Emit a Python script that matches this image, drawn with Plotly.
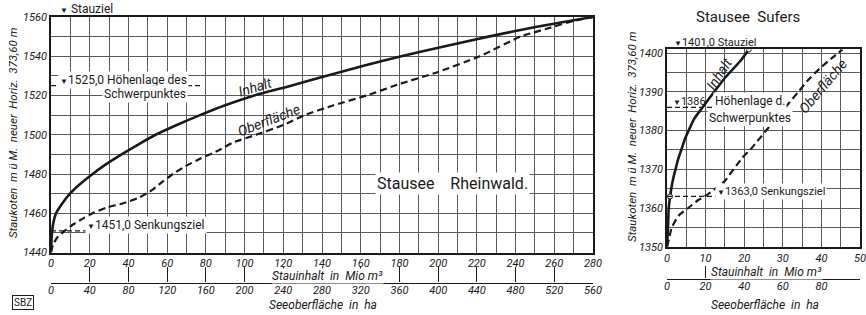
import plotly.graph_objects as go

# ---------------- data ----------------
# Stausee Rheinwald
rw_inhalt_elev = [1440, 1445, 1450, 1455, 1460, 1465, 1470, 1475, 1480, 1485, 1490, 1495, 1500,
                  1505, 1510, 1515, 1520, 1525, 1530, 1535, 1540, 1545, 1550, 1555, 1560]
rw_inhalt_mio = [0, 0.2, 0.5, 1.2, 2.6, 5.8, 9.8, 15.2, 21.5, 28.5, 36.5, 45, 54,
                 65, 77, 90, 105, 124, 142, 161, 181, 203, 226, 251, 280]

rw_ober_elev = [1440, 1444, 1448, 1451, 1454, 1457, 1460, 1463, 1465, 1468, 1472, 1476, 1480,
                1484, 1488, 1492, 1496, 1500, 1505, 1510, 1515, 1520, 1526, 1532, 1540,
                1550, 1554, 1558, 1560]
rw_ober_ha = [0, 2, 7, 14, 22, 32, 43, 58, 74, 91, 105, 115, 126,
              139, 155, 173, 188, 212, 240, 262, 292, 326, 361, 400, 443,
              485, 512, 540, 560]

# Stausee Sufers
su_inhalt_elev = [1350, 1355, 1360, 1363, 1365, 1368, 1370, 1373, 1375, 1378, 1380, 1383,
                  1386, 1390, 1394, 1398, 1401]
su_inhalt_mio = [0, 0.25, 0.45, 0.8, 1.1, 1.7, 2.2, 3, 3.7, 4.7, 5.6, 7,
                 9.2, 12.2, 15.3, 19, 21.2]

su_ober_elev = [1350, 1352, 1355, 1358, 1360, 1362, 1363, 1365, 1367, 1369, 1371, 1373, 1375,
                1378, 1381, 1384, 1387, 1390, 1393, 1396, 1399, 1401]
su_ober_ha = [0, 1, 2.5, 6, 11, 16, 19.5, 25, 30, 33, 36, 39, 43,
              48, 53, 58, 63, 68, 73, 79, 86, 91]

# levels
rw_levels = {"stauziel": 1560.0, "schwerpunkt": 1525.0, "senkung": 1451.0}
su_levels = {"stauziel": 1401.0, "schwerpunkt": 1386.0, "senkung": 1363.0}

# grid positions and labelled ticks
rw_mio_grid = list(range(0, 281, 10))
rw_mio_labels = list(range(0, 281, 20))
rw_ha_ticks = list(range(0, 561, 40))
rw_elev_grid = list(range(1440, 1561, 10))
rw_elev_labels = list(range(1440, 1561, 20))
su_mio_grid = list(range(0, 51, 5))
su_mio_labels = list(range(0, 51, 10))
su_ha_ticks = list(range(0, 101, 20))
su_elev_grid = list(range(1350, 1401, 5))
su_elev_labels = list(range(1350, 1401, 10))

# ---------------- layout helpers ----------------
W, H = 866, 315


def px(x):
    return x / W


def py(y):
    return 1 - y / H


FONT = "Roboto"
INK = "#1a1a1a"
GRID = "#5a5a5a"

fig = go.Figure()

# Rheinwald traces
fig.add_trace(go.Scatter(x=rw_inhalt_mio, y=rw_inhalt_elev, mode="lines",
                         line=dict(color=INK, width=2.6, shape="spline", smoothing=0.6),
                         xaxis="x", yaxis="y", showlegend=False, hoverinfo="skip"))
fig.add_trace(go.Scatter(x=rw_ober_ha, y=rw_ober_elev, mode="lines",
                         line=dict(color=INK, width=2.2, dash="7px,4px", shape="spline", smoothing=0.5),
                         xaxis="x3", yaxis="y", showlegend=False, hoverinfo="skip"))

# Sufers traces
fig.add_trace(go.Scatter(x=su_inhalt_mio, y=su_inhalt_elev, mode="lines",
                         line=dict(color=INK, width=2.6, shape="spline", smoothing=0.6),
                         xaxis="x2", yaxis="y2", showlegend=False, hoverinfo="skip"))
fig.add_trace(go.Scatter(x=su_ober_ha, y=su_ober_elev, mode="lines",
                         line=dict(color=INK, width=2.2, dash="7px,4px", shape="spline", smoothing=0.5),
                         xaxis="x4", yaxis="y2", showlegend=False, hoverinfo="skip"))
i_s = su_inhalt_elev.index(su_levels["senkung"])
fig.add_trace(go.Scatter(x=[su_inhalt_mio[i_s], su_inhalt_mio[-1]],
                         y=[su_inhalt_elev[i_s], su_inhalt_elev[-1]], mode="markers",
                         marker=dict(symbol="circle", size=5, color="white",
                                     line=dict(color=INK, width=1)),
                         xaxis="x2", yaxis="y2", showlegend=False, hoverinfo="skip"))

tickfont = dict(family=FONT, size=11, color=INK, style="italic")


def labels_for(grid, labelled):
    return [str(v) if v in labelled else "" for v in grid]


def main_axis(domain, rng, grid, labelled, anchor):
    return dict(domain=domain, range=rng, tickmode="array", tickvals=grid,
                ticktext=labels_for(grid, labelled), ticks="", showgrid=True,
                gridcolor=GRID, gridwidth=1, showline=True, linecolor=INK, linewidth=1.5,
                mirror=True, zeroline=False, tickfont=tickfont, anchor=anchor,
                layer="below traces", automargin=False)


def ha_axis(domain, rng, ticks, over, pos, tlen):
    return dict(domain=domain, range=rng, tickmode="array", tickvals=ticks, overlaying=over,
                anchor="free", position=pos, side="bottom", showgrid=False, showline=True,
                linecolor=INK, linewidth=1.2, ticks="inside", ticklen=tlen, tickwidth=1,
                tickcolor=INK, zeroline=False, tickfont=tickfont, automargin=False,
                ticklabelstandoff=-3)


rw_xdom = [px(51), px(593)]
rw_ydom = [py(252.5), py(17)]
su_xdom = [px(667), px(860)]
su_ydom = [py(246.7), py(49.4)]

fig.update_layout(
    width=W, height=H, autosize=False,
    margin=dict(l=0, r=0, t=0, b=0, pad=0, autoexpand=False),
    paper_bgcolor="white", plot_bgcolor="white",
    font=dict(family=FONT, color=INK),
    xaxis=main_axis(rw_xdom, [0, 280], rw_mio_grid, rw_mio_labels, "y"),
    yaxis=main_axis(rw_ydom, [1440, 1560], rw_elev_grid, rw_elev_labels, "x"),
    xaxis3=ha_axis(rw_xdom, [0, 560], rw_ha_ticks, "x", py(282.5), 15),
    xaxis2=main_axis(su_xdom, [0, 50], su_mio_grid, su_mio_labels, "y2"),
    yaxis2=main_axis(su_ydom, [1350, 1401], su_elev_grid, su_elev_labels, "x2"),
    xaxis4=ha_axis(su_xdom, [0, 100], su_ha_ticks, "x2", py(278.5), 12),
)

# level lines (dashed)
dash_line = dict(color=INK, width=1.2, dash="5px,3px")
shapes = [
    dict(type="line", xref="x", yref="y", x0=0, x1=77, y0=rw_levels["schwerpunkt"],
         y1=rw_levels["schwerpunkt"], line=dash_line),
    dict(type="line", xref="x", yref="y", x0=0, x1=78.5, y0=rw_levels["senkung"],
         y1=rw_levels["senkung"], line=dash_line),
    dict(type="line", xref="x2", yref="y2", x0=0, x1=30.5, y0=su_levels["schwerpunkt"],
         y1=su_levels["schwerpunkt"], line=dash_line),
    dict(type="line", xref="x2", yref="y2", x0=0, x1=41.3, y0=su_levels["senkung"],
         y1=su_levels["senkung"], line=dash_line),
]
fig.update_layout(shapes=shapes)

NB = "\u00a0"
TRI = "<span style='font-size:8px'>▼</span>"


def ann(x, y, text, size=12, italic=False, xanchor="center", yanchor="middle",
        angle=0, bg=None, border=None, pad=1):
    f = dict(family=FONT, size=size, color=INK)
    if italic:
        f["style"] = "italic"
    d = dict(x=px(x), y=py(y), xref="paper", yref="paper", text=text, showarrow=False,
             font=f, xanchor=xanchor, yanchor=yanchor, textangle=angle, borderpad=pad)
    if bg:
        d["bgcolor"] = bg
    if border:
        d["bordercolor"] = border
        d["borderwidth"] = 1
    return d


def fmt(v):
    return f"{v:.1f}".replace(".", ",")


YTITLE = f"Staukoten{NB}{NB}m ü M.{NB}{NB}neuer{NB}{NB}Horiz.{NB}{NB}373,60 m"
XTITLE1 = f"Stauinhalt{NB}{NB}in{NB}{NB}Mio m³"
XTITLE2 = f"Seeoberfläche{NB}{NB}in{NB}{NB}ha"

annotations = [
    # Rheinwald
    ann(58, 9, f"{TRI} Stauziel", 12, xanchor="left"),
    ann(58, 80, f"{TRI}{fmt(rw_levels['schwerpunkt'])} Höhenlage des",
        12, xanchor="left", bg="white"),
    ann(145, 94, "Schwerpunktes", 12, bg="white"),
    ann(85, 225, f"{TRI}{fmt(rw_levels['senkung'])}{NB}Senkungsziel",
        12, xanchor="left", bg="white"),
    ann(255, 87, "Inhalt", 14, italic=True, angle=-17),
    ann(269, 120, "Oberfläche", 14, italic=True, angle=-21),
    ann(452, 183, f"Stausee{NB}{NB}{NB}{NB}Rheinwald.", 16, bg="white"),
    ann(13, 133, YTITLE, 11.5, italic=True, angle=-90),
    ann(327, 276, XTITLE1, 12, italic=True, bg="white", pad=0),
    ann(323, 305, XTITLE2, 12, italic=True),
    ann(23, 302, "SBZ", 10, border=INK),
    # Sufers
    ann(748, 17, f"Stausee{NB}{NB}Sufers", 15),
    ann(672, 43, f"{TRI}{fmt(su_levels['stauziel'])}{NB}Stauziel",
        11, xanchor="left"),
    ann(671, 102, f"{TRI}{su_levels['schwerpunkt']:.0f}", 11, xanchor="left"),
    ann(750, 101, "Höhenlage d.", 12, bg="white"),
    ann(750, 118, "Schwerpunktes", 12, bg="white"),
    ann(715, 191, f"{TRI}{fmt(su_levels['senkung'])}{NB}Senkungsziel",
        11, xanchor="left", bg="white"),
    ann(719, 74, "Inhalt", 14, italic=True, angle=-57),
    ann(823, 86, "Oberfläche", 14, italic=True, angle=-50),
    ann(632, 137, YTITLE, 11.5, italic=True, angle=-90),
    ann(766, 272, XTITLE1, 12, italic=True, bg="white", pad=0),
    ann(765, 305, XTITLE2, 12, italic=True),
]
fig.update_layout(annotations=annotations)

fig.write_html("out.html", config={"displayModeBar": False},
               post_script="document.body.style.margin='0';")
